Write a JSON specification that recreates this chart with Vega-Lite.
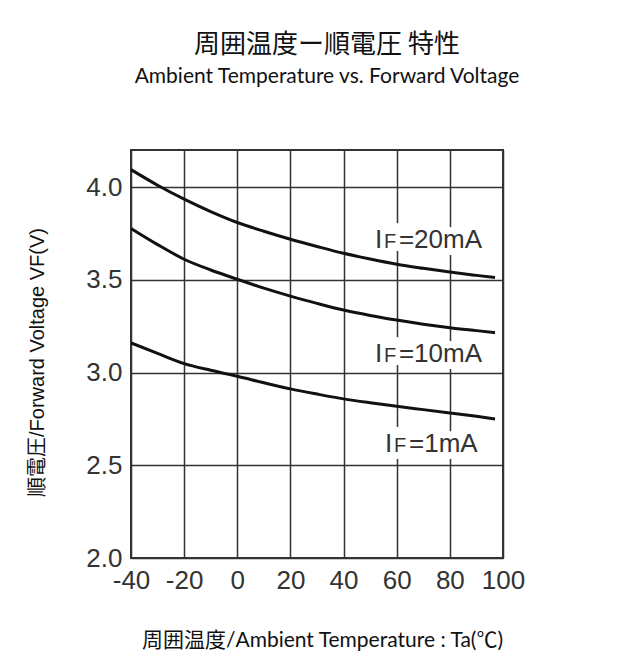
{
  "$schema": "https://vega.github.io/schema/vega-lite/v6.json",
  "width": 372,
  "height": 408,
  "autosize": {"type": "none"},
  "padding": {"left": 131, "top": 150, "right": 132, "bottom": 107},
  "background": "white",
  "title": {
    "text": "周囲温度ー順電圧 特性",
    "subtitle": "Ambient Temperature vs. Forward Voltage",
    "anchor": "middle",
    "frame": "group",
    "dx": 10,
    "offset": 63,
    "font": "Noto Sans CJK JP",
    "fontSize": 26,
    "fontWeight": "normal",
    "color": "#111",
    "subtitleFont": "Lato",
    "subtitleFontSize": 21,
    "subtitleColor": "#111",
    "subtitlePadding": 8
  },
  "config": {
    "view": {"stroke": "#333", "strokeWidth": 2},
    "axis": {
      "grid": true,
      "gridColor": "#333",
      "gridWidth": 1.5,
      "gridOpacity": 1,
      "domain": false,
      "ticks": false,
      "labelFont": "Liberation Sans",
      "labelFontSize": 26,
      "labelColor": "#333",
      "labelFlush": false,
      "labelOverlap": false,
      "titleFontWeight": "normal",
      "titleColor": "#111"
    }
  },
  "datasets": {
    "curves": [
      {"series": "20mA", "t": -40, "v": 4.094},
      {"series": "20mA", "t": -30, "v": 4.01},
      {"series": "20mA", "t": -20, "v": 3.935},
      {"series": "20mA", "t": -10, "v": 3.868},
      {"series": "20mA", "t": 0, "v": 3.809},
      {"series": "20mA", "t": 10, "v": 3.762},
      {"series": "20mA", "t": 20, "v": 3.719},
      {"series": "20mA", "t": 30, "v": 3.68},
      {"series": "20mA", "t": 40, "v": 3.643},
      {"series": "20mA", "t": 50, "v": 3.612},
      {"series": "20mA", "t": 60, "v": 3.584},
      {"series": "20mA", "t": 70, "v": 3.562},
      {"series": "20mA", "t": 80, "v": 3.542},
      {"series": "20mA", "t": 90, "v": 3.524},
      {"series": "20mA", "t": 97, "v": 3.512},
      {"series": "10mA", "t": -40, "v": 3.777},
      {"series": "10mA", "t": -30, "v": 3.69},
      {"series": "10mA", "t": -20, "v": 3.611},
      {"series": "10mA", "t": -10, "v": 3.553},
      {"series": "10mA", "t": 0, "v": 3.503},
      {"series": "10mA", "t": 10, "v": 3.455},
      {"series": "10mA", "t": 20, "v": 3.412},
      {"series": "10mA", "t": 30, "v": 3.373},
      {"series": "10mA", "t": 40, "v": 3.337},
      {"series": "10mA", "t": 50, "v": 3.308},
      {"series": "10mA", "t": 60, "v": 3.283},
      {"series": "10mA", "t": 70, "v": 3.261},
      {"series": "10mA", "t": 80, "v": 3.242},
      {"series": "10mA", "t": 90, "v": 3.226},
      {"series": "10mA", "t": 97, "v": 3.215},
      {"series": "1mA", "t": -40, "v": 3.16},
      {"series": "1mA", "t": -30, "v": 3.103},
      {"series": "1mA", "t": -20, "v": 3.048},
      {"series": "1mA", "t": -10, "v": 3.012},
      {"series": "1mA", "t": 0, "v": 2.98},
      {"series": "1mA", "t": 10, "v": 2.945},
      {"series": "1mA", "t": 20, "v": 2.912},
      {"series": "1mA", "t": 30, "v": 2.884},
      {"series": "1mA", "t": 40, "v": 2.858},
      {"series": "1mA", "t": 50, "v": 2.837},
      {"series": "1mA", "t": 60, "v": 2.818},
      {"series": "1mA", "t": 70, "v": 2.8},
      {"series": "1mA", "t": 80, "v": 2.782},
      {"series": "1mA", "t": 90, "v": 2.764},
      {"series": "1mA", "t": 97, "v": 2.75}
    ],
    "labels": [
      {"t": 51.8, "v": 3.727, "full": "IF=20mA", "rest": "=20mA"},
      {"t": 51.8, "v": 3.111, "full": "IF=10mA", "rest": "=10mA"},
      {"t": 55.6, "v": 2.624, "full": "IF=1mA", "rest": "=1mA"}
    ]
  },
  "encoding": {
    "x": {
      "field": "t",
      "type": "quantitative",
      "scale": {"domain": [-40, 100], "nice": false, "zero": false},
      "axis": {
        "values": [-40, -20, 0, 20, 40, 60, 80, 100],
        "labelExpr": "replace(datum.label, '−', '-')",
        "labelPadding": 9,
        "title": "周囲温度/Ambient Temperature : Ta(℃)",
        "titleFont": "Lato, Noto Sans CJK JP",
        "titleFontSize": 21,
        "titlePadding": 36,
        "titleX": 191
      }
    },
    "y": {
      "field": "v",
      "type": "quantitative",
      "scale": {"domain": [2, 4.2], "nice": false, "zero": false},
      "axis": {
        "values": [2, 2.5, 3, 3.5, 4],
        "format": ".1f",
        "labelPadding": 9,
        "title": "順電圧/Forward Voltage VF(V)",
        "titleFont": "Liberation Sans, Noto Sans CJK JP",
        "titleFontSize": 20,
        "titlePadding": 38,
        "titleY": 212
      }
    }
  },
  "layer": [
    {
      "data": {"name": "labels"},
      "mark": {
        "type": "text",
        "align": "left",
        "baseline": "alphabetic",
        "dx": -1,
        "dy": 10,
        "font": "Liberation Sans",
        "fontSize": 26,
        "fill": "white",
        "stroke": "white",
        "strokeWidth": 14,
        "strokeJoin": "round"
      },
      "encoding": {"text": {"field": "full"}}
    },
    {
      "data": {"name": "curves"},
      "mark": {"type": "line", "color": "#111", "strokeWidth": 3, "interpolate": "monotone"},
      "encoding": {"detail": {"field": "series"}}
    },
    {
      "data": {"name": "labels"},
      "mark": {
        "type": "text",
        "align": "left",
        "baseline": "alphabetic",
        "dy": 10,
        "font": "Liberation Sans",
        "fontSize": 26,
        "color": "#333",
        "text": "I"
      }
    },
    {
      "data": {"name": "labels"},
      "mark": {
        "type": "text",
        "align": "left",
        "baseline": "alphabetic",
        "dx": 9,
        "dy": 10,
        "font": "Liberation Sans",
        "fontSize": 20,
        "color": "#333",
        "text": "F"
      }
    },
    {
      "data": {"name": "labels"},
      "mark": {
        "type": "text",
        "align": "left",
        "baseline": "alphabetic",
        "dx": 24,
        "dy": 10,
        "font": "Liberation Sans",
        "fontSize": 26,
        "color": "#333"
      },
      "encoding": {"text": {"field": "rest"}}
    }
  ]
}
